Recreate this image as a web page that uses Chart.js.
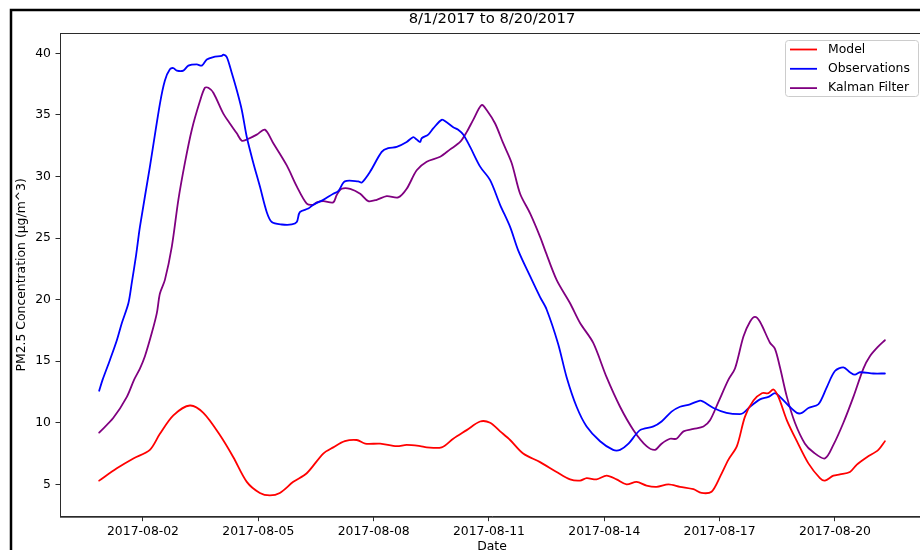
<!DOCTYPE html>
<html>
<head>
<meta charset="utf-8">
<title>PM2.5 8/1/2017 to 8/20/2017</title>
<script src="https://cdn.jsdelivr.net/npm/chart.js@4.4.0/dist/chart.umd.min.js"></script>
<style>
  html, body { margin: 0; padding: 0; overflow: hidden; background: #fff; }
  #plot { display: block; }
</style>
</head>
<body>
<canvas id="plot" width="930" height="560"></canvas>
<script>
// x values are days counted from 2017-08-01 00:00
const titleText = '8/1/2017 to 8/20/2017';

const modelDays = [-0.14, 0.32, 0.75, 1.18, 1.44, 1.79, 2.22, 2.57, 3.00, 3.35, 3.70, 4.04, 4.30, 4.56, 4.91,
  5.26, 5.69, 5.95, 6.25, 6.56, 6.78, 7.17, 7.60, 7.86, 8.21, 8.38, 8.77, 9.07, 9.42, 9.77, 10.03, 10.29,
  10.55, 10.89, 11.33, 11.76, 12.11, 12.37, 12.54, 12.80, 13.06, 13.32, 13.58, 13.84, 14.10, 14.36, 14.67,
  14.97, 15.32, 15.53, 15.79, 16.01, 16.23, 16.45, 16.66, 16.88, 17.10, 17.27, 17.40, 17.53, 17.75, 18.01,
  18.31, 18.61, 18.74, 18.96, 19.13, 19.39, 19.57, 19.83, 20.13, 20.30];
const modelVals = [5.3, 6.3, 7.1, 7.8, 9.1, 10.6, 11.4, 10.8, 9.0, 7.2, 5.2, 4.3, 4.1, 4.3, 5.2,
  5.9, 7.5, 8.0, 8.5, 8.6, 8.3, 8.3, 8.1, 8.2, 8.1, 8.0, 8.0, 8.7, 9.4, 10.1, 10.0, 9.3,
  8.6, 7.5, 6.8, 6.0, 5.4, 5.3, 5.5, 5.4, 5.7, 5.4, 5.0, 5.2, 4.9, 4.8, 5.0,
  4.8, 4.6, 4.3, 4.4, 5.6, 7.0, 8.1, 10.5, 11.8, 12.4, 12.4, 12.7, 12.1, 10.2, 8.5,
  6.7, 5.5, 5.3, 5.7, 5.8, 6.0, 6.6, 7.2, 7.8, 8.5];

const obsDays = [-0.14, -0.05, 0.14, 0.32, 0.45, 0.62, 0.71, 0.82, 0.92, 1.18, 1.44, 1.57, 1.70, 1.79, 1.88,
  2.05, 2.18, 2.40, 2.53, 2.66, 2.83, 3.05, 3.09, 3.18, 3.31, 3.44, 3.57, 3.70, 3.87, 4.04, 4.22, 4.35,
  4.61, 4.87, 5.00, 5.08, 5.30, 5.43, 5.69, 5.95, 6.08, 6.25, 6.60, 6.69, 6.91, 7.21, 7.38, 7.60, 7.86,
  8.03, 8.12, 8.21, 8.25, 8.42, 8.55, 8.77, 8.90, 9.07, 9.20, 9.33, 9.51, 9.77, 10.03, 10.29, 10.55, 10.76,
  11.07, 11.33, 11.50, 11.80, 12.02, 12.28, 12.54, 12.89, 13.23, 13.41, 13.63, 13.93, 14.28, 14.49, 14.75,
  14.97, 15.23, 15.49, 15.58, 15.84, 16.18, 16.53, 16.62, 16.79, 17.05, 17.27, 17.44, 17.57, 17.79, 18.01,
  18.14, 18.31, 18.57, 18.79, 19.00, 19.22, 19.39, 19.52, 19.65, 20.00, 20.30];
const obsVals = [12.6, 13.5, 15.1, 16.7, 18.1, 19.7, 21.4, 23.6, 25.9, 30.8, 35.9, 37.8, 38.7, 38.8, 38.6,
  38.6, 39.0, 39.1, 39.0, 39.5, 39.7, 39.8, 39.9, 39.7, 38.4, 37.0, 35.4, 33.2, 31.1, 29.2, 27.1, 26.3,
  26.1, 26.1, 26.3, 27.1, 27.4, 27.7, 28.1, 28.6, 28.8, 29.6, 29.6, 29.5, 30.4, 32.0, 32.3, 32.4, 32.8,
  33.2, 33.0, 32.8, 33.1, 33.4, 33.9, 34.6, 34.4, 34.0, 33.8, 33.4, 32.4, 30.8, 29.7, 27.7, 25.9, 24.0,
  21.9, 20.2, 19.2, 16.4, 13.7, 11.3, 9.7, 8.5, 7.8, 7.8, 8.3, 9.4, 9.7, 10.1, 10.9,
  11.3, 11.5, 11.8, 11.7, 11.2, 10.8, 10.7, 10.8, 11.3, 11.9, 12.1, 12.4, 12.1, 11.4, 10.8,
  10.8, 11.2, 11.5, 12.9, 14.2, 14.5, 14.1, 13.9, 14.1, 14.0, 14.0];

const kalmanDays = [-0.14, 0.23, 0.58, 0.77, 0.92, 1.05, 1.23, 1.36, 1.44, 1.57, 1.75, 1.92, 2.09, 2.27, 2.48,
  2.61, 2.70, 2.83, 3.09, 3.26, 3.44, 3.57, 3.70, 3.96, 4.17, 4.39, 4.74, 5.00, 5.26, 5.43, 5.52, 5.69,
  5.95, 6.04, 6.17, 6.39, 6.65, 6.86, 7.08, 7.34, 7.64, 7.86, 8.12, 8.38, 8.73, 8.99, 9.25, 9.42, 9.59,
  9.81, 9.94, 10.16, 10.37, 10.59, 10.81, 11.07, 11.33, 11.46, 11.76, 12.11, 12.37, 12.71, 13.06, 13.41,
  13.76, 14.10, 14.32, 14.49, 14.71, 14.88, 15.06, 15.32, 15.58, 15.75, 15.97, 16.23, 16.40, 16.62, 16.79,
  16.92, 17.05, 17.31, 17.44, 17.57, 17.75, 17.96, 18.22, 18.44, 18.74, 18.96, 19.22, 19.48, 19.74, 19.91,
  20.13, 20.30];
const kalmanVals = [9.2, 10.4, 12.1, 13.5, 14.4, 15.4, 17.3, 18.9, 20.5, 21.6, 24.3, 28.1, 31.1, 33.8, 36.1,
  37.2, 37.2, 36.8, 35.1, 34.3, 33.5, 32.9, 33.0, 33.4, 33.8, 32.7, 30.9, 29.2, 27.8, 27.7, 27.9, 28.0,
  27.9, 28.5, 29.0, 29.0, 28.6, 28.0, 28.1, 28.4, 28.3, 29.0, 30.5, 31.2, 31.6, 32.2, 32.8, 33.6, 34.6,
  35.8, 35.4, 34.3, 32.7, 31.1, 28.6, 27.0, 25.1, 24.0, 21.6, 19.7, 18.1, 16.5, 13.7, 11.3,
  9.4, 8.1, 7.8, 8.3, 8.7, 8.7, 9.3, 9.5, 9.7, 10.2, 11.7, 13.5, 14.4, 17.0, 18.2,
  18.6, 18.2, 16.5, 16.0, 14.5, 12.1, 10.0, 8.3, 7.6, 7.1, 8.2, 10.0, 12.1, 14.4, 15.4,
  16.2, 16.7];

const xTickDays = [1, 4, 7, 10, 13, 16, 19];
const xTickLabels = ['2017-08-02', '2017-08-05', '2017-08-08', '2017-08-11', '2017-08-14', '2017-08-17', '2017-08-20'];
const yTicks = [5, 10, 15, 20, 25, 30, 35, 40];

const FONT = '"DejaVu Sans", "Liberation Sans", sans-serif';
const LINE_W = 1.8;

function toPoints(days, vals) {
  return days.map((d, i) => ({ x: d, y: vals[i] }));
}

// title, axes box, figure border and the legend box are drawn by hand
const decor = {
  id: 'decor',
  afterDraw(chart) {
    const ctx = chart.ctx;
    const a = chart.chartArea;
    ctx.save();

    ctx.strokeStyle = '#2b2b2b';
    ctx.lineWidth = 1;
    ctx.strokeRect(a.left + 0.5, a.top + 0.5, a.right - a.left, a.bottom - a.top);

    ctx.strokeStyle = '#000';
    ctx.lineWidth = 2.5;
    ctx.beginPath();
    ctx.moveTo(11, 700);
    ctx.lineTo(11, 10);
    ctx.lineTo(1000, 10);
    ctx.stroke();

    ctx.fillStyle = '#000';
    ctx.font = '14.8px ' + FONT;
    ctx.textAlign = 'center';
    ctx.textBaseline = 'middle';
    ctx.fillText(titleText, (a.left + a.right) / 2, 19.5);

    // legend
    const bw = 133, bh = 56;
    const bx = a.right - 6 - bw, by = a.top + 7;
    ctx.fillStyle = 'rgba(255,255,255,0.8)';
    ctx.strokeStyle = '#cccccc';
    ctx.lineWidth = 1;
    ctx.beginPath();
    ctx.roundRect(bx + 0.5, by + 0.5, bw, bh, 3);
    ctx.fill();
    ctx.stroke();

    ctx.font = '12.4px ' + FONT;
    ctx.textAlign = 'left';
    chart.data.datasets.forEach((ds, i) => {
      const y = by + 9.5 + i * 19.3;
      ctx.strokeStyle = ds.borderColor;
      ctx.lineWidth = LINE_W;
      ctx.beginPath();
      ctx.moveTo(bx + 5, y);
      ctx.lineTo(bx + 32, y);
      ctx.stroke();
      ctx.fillStyle = '#000';
      ctx.fillText(ds.label, bx + 43, y);
    });
    ctx.restore();
  }
};

new Chart(document.getElementById('plot'), {
  type: 'line',
  data: {
    datasets: [
      { label: 'Model', data: toPoints(modelDays, modelVals), borderColor: '#ff0000' },
      { label: 'Observations', data: toPoints(obsDays, obsVals), borderColor: '#0000ff' },
      { label: 'Kalman Filter', data: toPoints(kalmanDays, kalmanVals), borderColor: '#800080' }
    ]
  },
  options: {
    responsive: false,
    animation: false,
    devicePixelRatio: 1,
    layout: { padding: { top: 33, right: 6, left: 0, bottom: 0 } },
    elements: {
      line: { borderWidth: LINE_W, tension: 0.3, fill: false, borderJoinStyle: 'round', borderCapStyle: 'round' },
      point: { radius: 0 }
    },
    plugins: {
      legend: { display: false },
      title: { display: false },
      tooltip: { enabled: false }
    },
    scales: {
      x: {
        type: 'linear',
        min: -1.159,
        max: 21.317,
        afterFit: s => { s.height = 43.3; },
        afterBuildTicks: s => { s.ticks = xTickDays.map(v => ({ value: v })); },
        grid: { drawOnChartArea: false, drawTicks: true, tickLength: 4.5, color: '#2b2b2b' },
        border: { display: true, color: '#2b2b2b' },
        ticks: {
          autoSkip: false,
          maxRotation: 0,
          padding: 3.5,
          color: '#000',
          font: { family: FONT, size: 12.4 },
          callback: v => xTickLabels[xTickDays.indexOf(v)]
        },
        title: {
          display: true,
          text: 'Date',
          color: '#000',
          font: { family: FONT, size: 12.4 },
          padding: { top: 0, bottom: 5.6 }
        }
      },
      y: {
        min: 2.37,
        max: 41.65,
        afterFit: s => { s.width = 60; },
        afterBuildTicks: s => { s.ticks = yTicks.map(v => ({ value: v })); },
        grid: { drawOnChartArea: false, drawTicks: true, tickLength: 4.5, color: '#2b2b2b' },
        border: { display: true, color: '#2b2b2b' },
        ticks: {
          padding: 4.5,
          color: '#000',
          font: { family: FONT, size: 12.4 },
          callback: v => String(v)
        },
        title: {
          display: true,
          text: 'PM2.5 Concentration (µg/m^3)',
          color: '#000',
          font: { family: FONT, size: 12.4 },
          padding: { top: 14.5, bottom: 0 }
        }
      }
    }
  },
  plugins: [decor]
});
</script>
</body>
</html>
